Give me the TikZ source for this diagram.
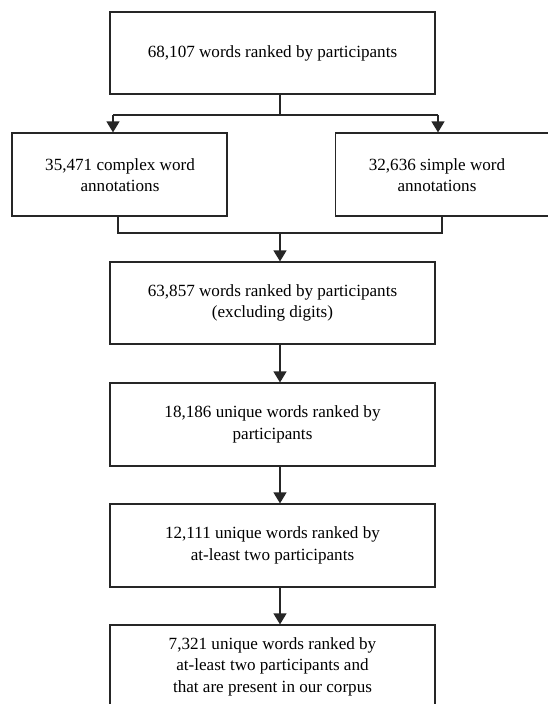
\documentclass[tikz,border=0pt]{standalone}
\usepackage{fontspec}
\setmainfont{Liberation Serif}
\usetikzlibrary{arrows.meta}
\begin{document}
\begin{tikzpicture}[x=1pt,y=-1pt,
  box/.style={draw=black!85, line width=1.2pt, rectangle, inner sep=0pt,
    align=center, font=\fontsize{17.1}{21.5}\selectfont},
  mainbox/.style={box, minimum width=325pt, minimum height=82pt},
  txt/.style={inner sep=0pt, align=center, font=\fontsize{17.1}{21.5}\selectfont},
  conn/.style={draw=black!85, line width=1.2pt},
  arr/.style={conn, -{Triangle[length=11pt,width=13pt]}}]
\useasboundingbox (0,0) rectangle (548,704);
\clip (0,0) rectangle (548,704);
\fill[white] (0,0) rectangle (548,704);

\node[mainbox] (T) at (272.5,53) {68,107 words ranked by participants};
\node[box, minimum width=215pt, minimum height=83pt] (L) at (119.5,174.5) {};
\node[txt] (Lt) at (120,175) {35,471 complex word\\annotations};
\node[box, minimum width=230pt, minimum height=83pt, anchor=west] (R) at (335,174.5) {};
\node[txt] (Rt) at (437,175) {32,636 simple word\\annotations};
\node[mainbox] (B1) at (272.5,303) {63,857 words ranked by participants\\(excluding digits)};
\node[mainbox, minimum height=83pt] (B2) at (272.5,424.5) {18,186 unique words ranked by\\participants};
\node[mainbox, minimum height=83pt] (B3) at (272.5,545.5) {12,111 unique words ranked by\\at-least two participants};
\node[mainbox, minimum height=83pt] (B4) at (272.5,666.5) {7,321 unique words ranked by\\at-least two participants and\\that are present in our corpus};

\coordinate (j) at (280,115);
\coordinate (jl) at (113,115);
\coordinate (jr) at (438,115);
\coordinate (k) at (280,233);
\coordinate (kl) at (118,233);
\coordinate (kr) at (442,233);

\draw[conn] (T.south -| j) -- (j);
\draw[conn] (jl) -- (jr);
\draw[arr] (jl) -- (jl |- L.north);
\draw[arr] (jr) -- (jr |- R.north);
\draw[conn] (kl |- L.south) -- (kl) -- (kr) -- (kr |- R.south);
\draw[arr] (k) -- (k |- B1.north);
\draw[arr] (B1.south -| k) -- (k |- B2.north);
\draw[arr] (B2.south -| k) -- (k |- B3.north);
\draw[arr] (B3.south -| k) -- (k |- B4.north);
\end{tikzpicture}
\end{document}
